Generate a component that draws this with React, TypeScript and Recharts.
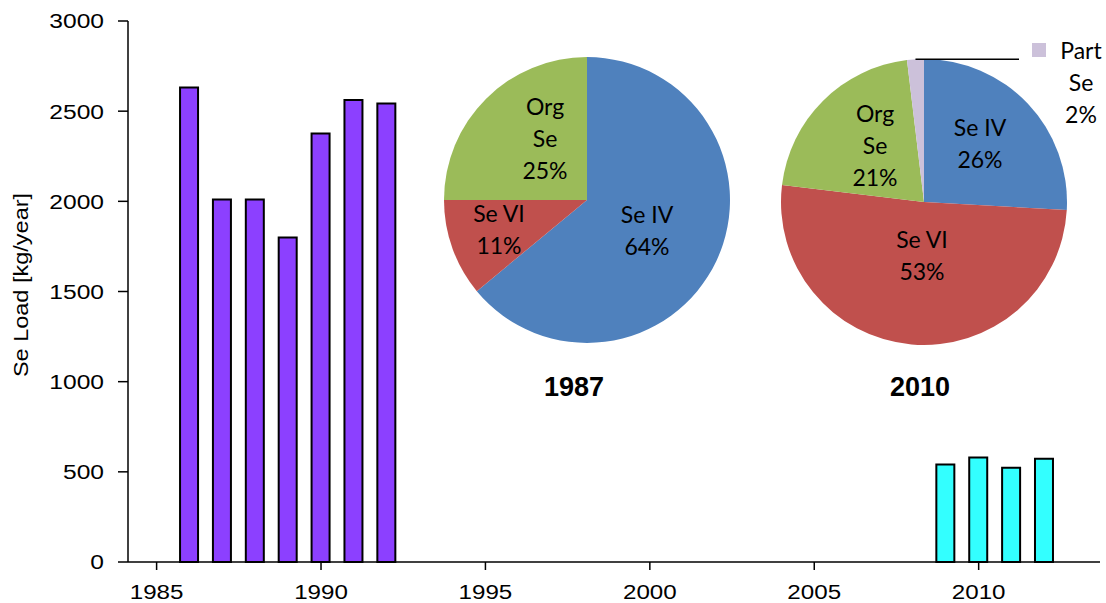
import { Bar, BarChart, Cell, Pie, PieChart, XAxis, YAxis } from "recharts";

document.body.style.margin = "0";

// annual selenium load, kg/year
const YEARS_EARLY = [1986, 1987, 1988, 1989, 1990, 1991, 1992];
const LOAD_EARLY = [2631, 2010, 2010, 1799, 2376, 2562, 2542];
const YEARS_LATE = [2009, 2010, 2011, 2012];
const LOAD_LATE = [541, 579, 522, 572];

const X_TICKS = [1985, 1990, 1995, 2000, 2005, 2010];
const Y_TICKS = [0, 500, 1000, 1500, 2000, 2500, 3000];

// speciation pies
const SPECIES_1987 = ["Se IV", "Se VI", "Org Se"];
const SHARE_1987 = [64, 11, 25];
const PCT_1987 = ["64%", "11%", "25%"];

const SPECIES_2010 = ["Se IV", "Se VI", "Org Se", "Part Se"];
const SHARE_2010 = [25.9, 51, 21.2, 1.9];
const PCT_2010 = ["26%", "53%", "21%", "2%"];

const PIE_COLORS = ["#4F81BD", "#C0504D", "#9BBB59", "#CCC1DA"];
const PURPLE = "#8C40FF";
const CYAN = "#33FFFF";

const rows = [
  ...YEARS_EARLY.map((year, i) => ({ year, load: LOAD_EARLY[i], late: false })),
  ...YEARS_LATE.map((year, i) => ({ year, load: LOAD_LATE[i], late: true })),
];

const pie1987 = SPECIES_1987.map((name, i) => ({ name, value: SHARE_1987[i], pct: PCT_1987[i] }));
const pie2010 = SPECIES_2010.map((name, i) => ({ name, value: SHARE_2010[i], pct: PCT_2010[i] }));

interface Lay {
  dx: number;
  dy: number;
  wrap?: boolean;
  key?: boolean;
}

// label placement relative to pie centre (first baseline)
const LAYOUT_1987: Lay[] = [
  { dx: 60, dy: 23 },
  { dx: -88, dy: 22 },
  { dx: -42, dy: -85, wrap: true },
];
const LAYOUT_2010: Lay[] = [
  { dx: 56, dy: -66 },
  { dx: -2, dy: 46 },
  { dx: -49, dy: -80, wrap: true },
  { dx: 157, dy: -143, wrap: true, key: true },
];

const PIE_W = 360;
const PIE_H = 340;
const PIE_CX = 180;
const PIE_CY = 170;
const PIE_R = 143;
const LINE = 32;
const AXIS_FONT = "Liberation Sans, Arial, sans-serif";

const YTick = ({ x, y, payload, textAnchor }: any) => (
  <g transform={`translate(${x},${y})`}>
    <text
      transform="scale(1.2,1)"
      textAnchor={textAnchor}
      dy="0.36em"
      fontSize={20.5}
      fontFamily={AXIS_FONT}
      fill="#000"
    >
      {payload.value}
    </text>
  </g>
);

const XTick = ({ x, y, payload }: any) => (
  <g transform={`translate(${x},${y})`}>
    <text
      transform="scale(1.24,1)"
      textAnchor="middle"
      dy="0.74em"
      fontSize={19.5}
      fontFamily={AXIS_FONT}
      fill="#000"
    >
      {payload.value}
    </text>
  </g>
);

const makeLabel = (layout: Lay[]) => (props: any) => {
  const { index, midAngle, payload } = props;
  const cx = PIE_CX;
  const cy = PIE_CY;
  const lay = layout[index];
  const name: string = payload?.name ?? props.name;
  const pct: string = payload?.pct ?? props.pct;
  const lines = lay.wrap ? [...name.split(" "), pct] : [name, pct];
  const tx = cx + lay.dx;
  const ty = cy + lay.dy;
  const RADIAN = Math.PI / 180;
  const sx = cx + PIE_R * Math.cos(midAngle * RADIAN);
  const sy = cy - PIE_R * Math.sin(midAngle * RADIAN);

  return (
    <g key={`lbl-${index}`}>
      {lay.key && (
        <>
          <line x1={sx} y1={sy} x2={cx + 95} y2={sy} stroke="#000" strokeWidth={1.5} />
          <rect x={tx - 49} y={ty - 16} width={14} height={14} fill={PIE_COLORS[index]} />
        </>
      )}
      <text textAnchor="middle" fontFamily="Lato, sans-serif" fontSize={23} fill="#000">
        {lines.map((ln, i) => (
          <tspan key={i} x={tx} y={ty + i * LINE}>
            {ln}
          </tspan>
        ))}
      </text>
    </g>
  );
};

const SpeciesPie = ({ data, layout, left, top }: any) => (
  <div style={{ position: "absolute", left, top }}>
    <PieChart width={PIE_W} height={PIE_H} margin={{ top: 0, right: 0, bottom: 0, left: 0 }}>
      <Pie
        data={data}
        dataKey="value"
        cx={PIE_CX}
        cy={PIE_CY}
        outerRadius={PIE_R}
        startAngle={90}
        endAngle={-270}
        stroke="none"
        label={makeLabel(layout)}
        labelLine={false}
        isAnimationActive={false}
      >
        {data.map((_: any, i: number) => (
          <Cell key={`cell-${i}`} fill={PIE_COLORS[i]} />
        ))}
      </Pie>
    </PieChart>
  </div>
);

export default function App() {
  const axisStroke = { stroke: "#000", strokeWidth: 1.5 };
  return (
    <div style={{ position: "relative", width: 1106, height: 603, background: "#fff" }}>
      <BarChart
        width={1106}
        height={603}
        data={rows}
        margin={{ top: 21, right: 6, bottom: 0, left: 0 }}
      >
        <XAxis
          dataKey="year"
          type="number"
          domain={[1984.13, 2013.69]}
          allowDataOverflow
          ticks={X_TICKS}
          height={41}
          tickSize={8}
          tickMargin={15}
          tick={<XTick />}
          axisLine={axisStroke}
          tickLine={axisStroke}
        />
        <XAxis
          xAxisId="top"
          orientation="top"
          dataKey="year"
          type="number"
          domain={[1984.13, 2013.69]}
          allowDataOverflow
          height={0}
          tick={false}
          tickLine={false}
          axisLine={axisStroke}
        />
        <YAxis
          domain={[0, 3000]}
          ticks={Y_TICKS}
          width={128}
          tickSize={10}
          tickMargin={14}
          tick={<YTick />}
          axisLine={axisStroke}
          tickLine={axisStroke}
        />
        <YAxis
          yAxisId="right"
          orientation="right"
          domain={[0, 3000]}
          width={0}
          tick={false}
          tickLine={false}
          axisLine={axisStroke}
        />
        <Bar dataKey="load" barSize={18} stroke="#000" strokeWidth={2} isAnimationActive={false}>
          {rows.map((r, i) => (
            <Cell key={`bar-${i}`} fill={r.late ? CYAN : PURPLE} />
          ))}
        </Bar>
      </BarChart>

      <SpeciesPie data={pie1987} layout={LAYOUT_1987} left={587 - PIE_CX} top={200 - PIE_CY} />
      <SpeciesPie data={pie2010} layout={LAYOUT_2010} left={924 - PIE_CX} top={202 - PIE_CY} />

      <svg
        width={1106}
        height={603}
        style={{ position: "absolute", left: 0, top: 0, pointerEvents: "none" }}
      >
        <text
          transform="translate(28,285) rotate(-90) scale(1.12,1)"
          textAnchor="middle"
          fontSize={21}
          fontFamily={AXIS_FONT}
          fill="#000"
        >
          Se Load [kg/year]
        </text>
        <text x={574} y={396} textAnchor="middle" fontSize={27} fontWeight="bold" fontFamily={AXIS_FONT} fill="#000">
          1987
        </text>
        <text x={920} y={396} textAnchor="middle" fontSize={27} fontWeight="bold" fontFamily={AXIS_FONT} fill="#000">
          2010
        </text>
      </svg>
    </div>
  );
}
